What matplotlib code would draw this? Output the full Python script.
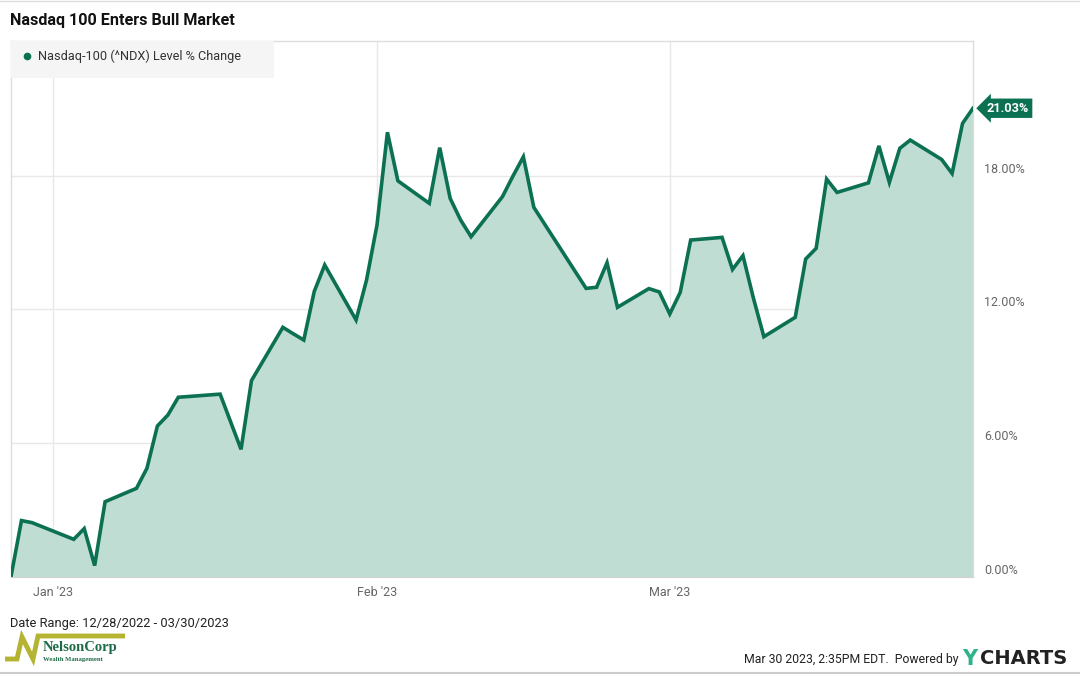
import matplotlib
matplotlib.use('Agg')
import matplotlib.pyplot as plt
import pandas as pd
from matplotlib.patches import Rectangle

plt.rcParams['font.family'] = ['Roboto', 'DejaVu Sans']

# Nasdaq-100 level % change since 12/28/2022
dates = ['2022-12-28', '2022-12-29', '2022-12-30',
         '2023-01-03', '2023-01-04', '2023-01-05', '2023-01-06',
         '2023-01-09', '2023-01-10', '2023-01-11', '2023-01-12', '2023-01-13',
         '2023-01-17', '2023-01-18', '2023-01-19', '2023-01-20',
         '2023-01-23', '2023-01-24', '2023-01-25', '2023-01-26', '2023-01-27',
         '2023-01-30', '2023-01-31', '2023-02-01', '2023-02-02', '2023-02-03',
         '2023-02-06', '2023-02-07', '2023-02-08', '2023-02-09', '2023-02-10',
         '2023-02-13', '2023-02-14', '2023-02-15', '2023-02-16', '2023-02-17',
         '2023-02-21', '2023-02-22', '2023-02-23', '2023-02-24',
         '2023-02-27', '2023-02-28', '2023-03-01', '2023-03-02', '2023-03-03',
         '2023-03-06', '2023-03-07', '2023-03-08', '2023-03-09', '2023-03-10',
         '2023-03-13', '2023-03-14', '2023-03-15', '2023-03-16', '2023-03-17',
         '2023-03-20', '2023-03-21', '2023-03-22', '2023-03-23', '2023-03-24',
         '2023-03-27', '2023-03-28', '2023-03-29', '2023-03-30']
pct_change = [0.00, 2.51, 2.42,
              1.67, 2.15, 0.49, 3.36,
              3.96, 4.86, 6.76, 7.25, 8.05,
              8.19, 6.95, 5.71, 8.80,
              11.19, 10.90, 10.62, 12.80, 13.99,
              11.52, 13.31, 15.78, 19.95, 17.77,
              16.76, 19.26, 16.98, 16.01, 15.26,
              17.06, 17.98, 18.85, 16.58, 15.85,
              12.94, 12.99, 14.09, 12.09,
              12.93, 12.78, 11.79, 12.76, 15.11,
              15.23, 13.79, 14.41, 12.50, 10.77,
              11.64, 14.26, 14.74, 17.85, 17.25,
              17.68, 19.34, 17.70, 19.23, 19.60,
              18.73, 18.10, 20.35, 21.03]
y_ticks = [0, 6, 12, 18]
x_ticks = ['2023-01-01', '2023-02-01', '2023-03-01']
x_tick_labels = ["Jan '23", "Feb '23", "Mar '23"]

dates = pd.to_datetime(dates)
line_color = '#0b7152'
fill_color = '#c0ddd3'
grid_color = '#e8e8e8'

fig = plt.figure(figsize=(10.8, 6.75), dpi=100)
ax = fig.add_axes([11 / 1080, 1 - 576.5 / 675, 962 / 1080, 535.5 / 675])

ax.fill_between(dates, pct_change, 0, color=fill_color, lw=0, zorder=2)
ax.plot(dates, pct_change, color=line_color, lw=2.6, zorder=3,
        solid_joinstyle='miter')

ax.set_xlim(dates[0], dates[-1])
ax.set_ylim(0, 24.05)

ax.set_yticks(y_ticks)
ax.set_yticklabels(['%.2f%%' % v for v in y_ticks])
ax.yaxis.tick_right()
ax.set_xticks(pd.to_datetime(x_ticks))
ax.set_xticklabels(x_tick_labels)
ax.tick_params(axis='both', length=0, labelsize=9, labelcolor='#666666')
ax.tick_params(axis='y', pad=8)
ax.tick_params(axis='x', pad=7)
for lab in ax.get_yticklabels():
    lab.set_va('bottom')
ax.grid(True, color=grid_color, lw=1, zorder=1)
ax.set_axisbelow(True)

for side in ['top', 'left', 'right']:
    ax.spines[side].set_color('#dddddd')
    ax.spines[side].set_linewidth(1)
ax.spines['bottom'].set_color('#d0d0d0')

# legend box
ax.add_patch(Rectangle((0, 1 - 37 / 535.5), 263 / 962, 37 / 535.5,
                       transform=ax.transAxes, facecolor='#f5f5f5',
                       edgecolor='none', zorder=4))
ax.plot([16 / 962], [1 - 15 / 535.5], 'o', color=line_color, ms=4.5,
        transform=ax.transAxes, zorder=5, clip_on=False)
ax.text(27 / 962, 1 - 15 / 535.5, 'Nasdaq-100 (^NDX) Level % Change',
        transform=ax.transAxes, fontsize=9.2, color='#333333', va='center',
        zorder=5)

# last value flag
last_y = pct_change[-1]
ax.annotate('%.2f%%' % last_y, xy=(1, last_y), xycoords=('axes fraction', 'data'),
            xytext=(10, 0), textcoords='offset points', fontsize=9.2,
            fontweight='bold', color='white', va='center', ha='left',
            bbox=dict(boxstyle='larrow,pad=0.25', fc=line_color, ec='none'),
            annotation_clip=False, zorder=6)

# title and footer
fig.text(10 / 1080, 1 - 20 / 675, 'Nasdaq 100 Enters Bull Market',
         fontsize=11.6, fontweight='bold', color='#111111', va='center')
fig.text(10 / 1080, 1 - 623 / 675, 'Date Range: 12/28/2022 - 03/30/2023',
         fontsize=9.3, color='#222222', va='center')
fig.text(959 / 1080, 1 - 659 / 675, "Mar 30 2023, 2:35PM EDT.  Powered by",
         fontsize=8.8, color='#222222', va='center', ha='right')

# overlay in pixel coordinates for logos / footer marks
ov = fig.add_axes([0, 0, 1, 1], zorder=-1)
ov.set_xlim(0, 1080)
ov.set_ylim(675, 0)
ov.axis('off')
ov.text(962, 659, 'Y', fontsize=15, fontweight='bold', color='#2db38a',
        va='center', ha='left', family='DejaVu Sans')
ov.text(980, 659, 'CHARTS', fontsize=14, fontweight='bold',
        color='#222222', va='center', ha='left', family='DejaVu Sans')
ov.plot([0, 1080], [673, 673], color='#cccccc', lw=1.5)
ov.plot([0, 1080], [0.5, 0.5], color='#dddddd', lw=1)

# NelsonCorp logo mark
olive = '#b5b432'
ov.plot([5, 17, 22, 33, 38, 125], [659, 659, 637, 659, 636, 636],
        color=olive, lw=3.5, solid_joinstyle='miter', solid_capstyle='butt')
ov.text(43, 648, 'NelsonCorp', fontsize=10.5, fontweight='bold',
        family='Liberation Serif', color='#1d6b45', va='center')
ov.text(43, 659, 'Wealth Management', fontsize=4.8, fontweight='bold',
        family='Liberation Serif', color='#1d6b45', va='center')

fig.savefig('out.png', dpi=100, facecolor='white')
